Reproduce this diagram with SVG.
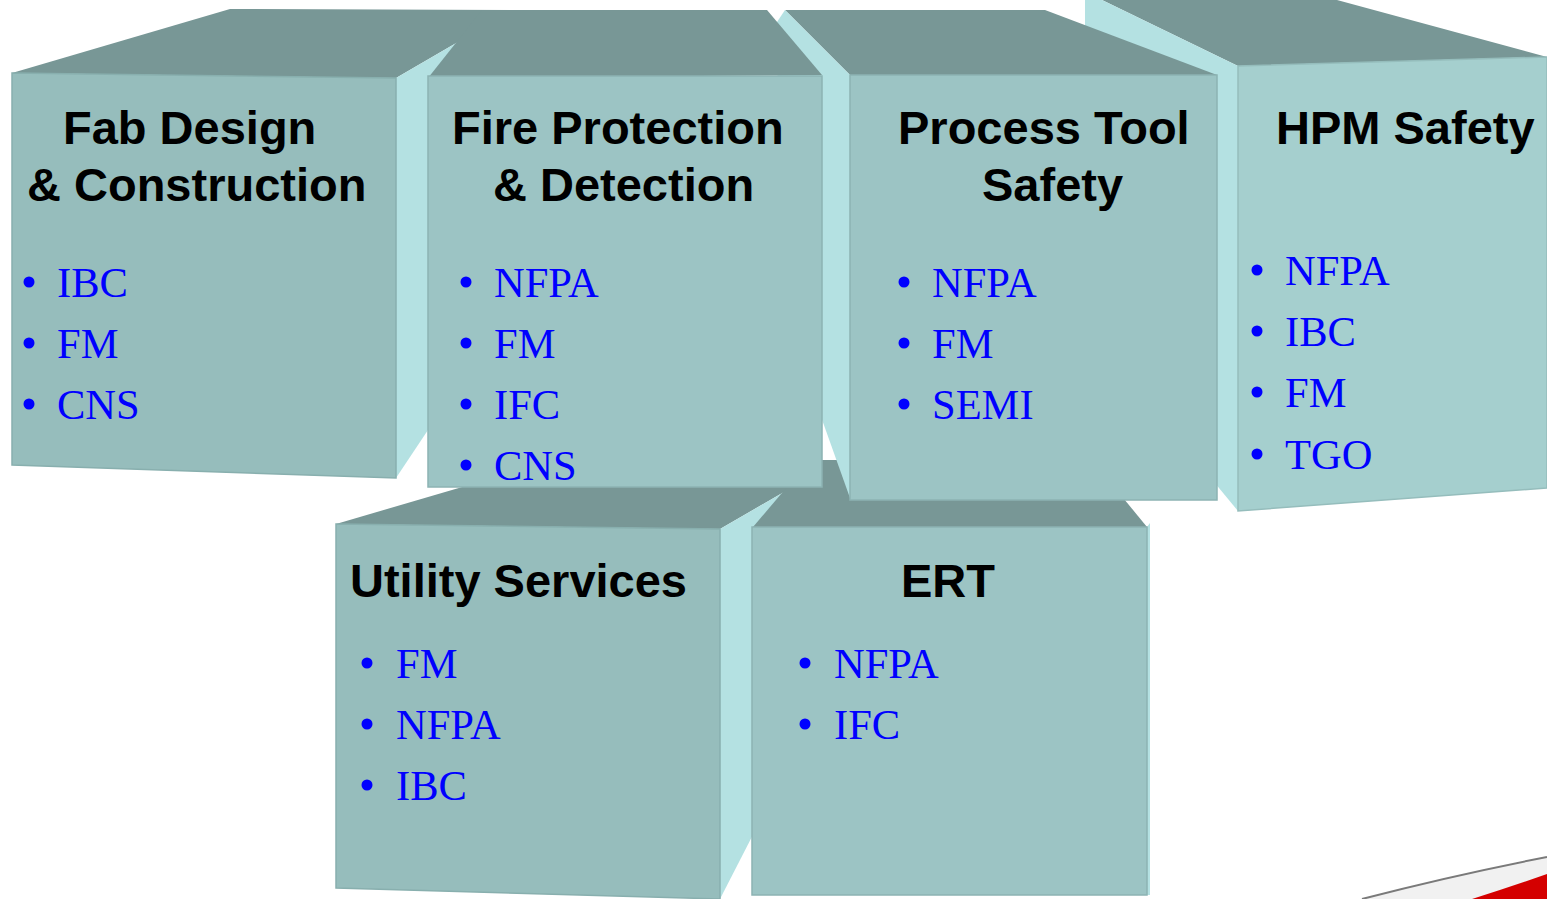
<svg xmlns="http://www.w3.org/2000/svg" width="1547" height="899" viewBox="0 0 1547 899">
<style>
.top{fill:#789796}
.side{fill:#b4e1e2}
.front{fill:#9cc4c4;stroke:#8cb3b3;stroke-width:1.5}
.frontd{fill:#96bdbc;stroke:#88afae;stroke-width:1.5}
.frontl{fill:#a5cfce;stroke:#95bdbc;stroke-width:1.5}
.title{font-family:"Liberation Sans",Arial,sans-serif;font-weight:bold;font-size:47px;fill:#000}
.item{font-family:"Liberation Serif","Times New Roman",serif;font-size:42.5px;fill:#0000ff}
.dot{fill:#0000ff}
</style>
<rect width="1547" height="899" fill="#ffffff"/>
<g id="swoosh">
<path d="M1362,899 Q1450,876 1547,857 L1547,899 Z" fill="#f1f1f1"/>
<path d="M1362,899 Q1450,876 1547,857" fill="none" stroke="#7a7a7a" stroke-width="2"/>
<path d="M1472,899 Q1510,887 1547,874 L1547,899 Z" fill="#d40000"/>
</g>
<g id="utility-services">
<polygon class="top" points="336,524 520,470 822,470 720,529"/>
<polygon class="side" points="720,529 822,470 822,700 720,899"/>
<polygon class="frontd" points="336,524 720,529 720,899 336,888"/>
<text class="title" x="350" y="597">Utility Services</text>
<circle class="dot" cx="367" cy="663" r="5.5"/><text class="item" x="396" y="678">FM</text>
<circle class="dot" cx="367" cy="724" r="5.5"/><text class="item" x="396" y="739">NFPA</text>
<circle class="dot" cx="367" cy="785" r="5.5"/><text class="item" x="396" y="800">IBC</text>
</g>
<g id="ert">
<polygon class="top" points="753,527 810,460 1092,460 1147,527"/>
<polygon class="side" points="1147,527 1150,523 1150,895 1147,895"/>
<polygon class="front" points="752,527 1147,527 1147,895 752,895"/>
<text class="title" x="901" y="597">ERT</text>
<circle class="dot" cx="805" cy="663" r="5.5"/><text class="item" x="834" y="678">NFPA</text>
<circle class="dot" cx="805" cy="724" r="5.5"/><text class="item" x="834" y="739">IFC</text>
</g>
<g id="hpm-safety">
<polygon class="top" points="1102,0 1337,0 1547,57 1238,66"/>
<polygon class="side" points="1085,0 1102,0 1238,66 1238,511 1200,465 1085,300"/>
<polygon class="frontl" points="1238,66 1547,57 1547,488 1238,511"/>
<text class="title" x="1276" y="144">HPM Safety</text>
<circle class="dot" cx="1257" cy="270" r="5.5"/><text class="item" x="1285" y="285">NFPA</text>
<circle class="dot" cx="1257" cy="331" r="5.5"/><text class="item" x="1285" y="346">IBC</text>
<circle class="dot" cx="1257" cy="392" r="5.5"/><text class="item" x="1285" y="407">FM</text>
<circle class="dot" cx="1257" cy="454" r="5.5"/><text class="item" x="1285" y="469">TGO</text>
</g>
<g id="process-tool-safety">
<polygon class="top" points="850,75 785,10 1045,10 1217,75"/>
<polygon class="side" points="850,75 785,10 775,25 790,330 850,498"/>
<polygon class="front" points="850,75 1217,75 1217,500 850,500"/>
<text class="title" x="898" y="144">Process Tool</text>
<text class="title" x="982" y="201">Safety</text>
<circle class="dot" cx="904" cy="282" r="5.5"/><text class="item" x="932" y="297">NFPA</text>
<circle class="dot" cx="904" cy="343" r="5.5"/><text class="item" x="932" y="358">FM</text>
<circle class="dot" cx="904" cy="404" r="5.5"/><text class="item" x="932" y="419">SEMI</text>
</g>
<g id="fab-design-construction">
<polygon class="top" points="12,73 230,9 513,10 396,78"/>
<polygon class="side" points="396,78 513,10 513,300 428,430 396,478"/>
<polygon class="frontd" points="12,73 396,78 396,478 12,465"/>
<text class="title" x="63" y="144">Fab Design</text>
<text class="title" x="27" y="201">&amp; Construction</text>
<circle class="dot" cx="29" cy="282" r="5.5"/><text class="item" x="57" y="297">IBC</text>
<circle class="dot" cx="29" cy="343" r="5.5"/><text class="item" x="57" y="358">FM</text>
<circle class="dot" cx="29" cy="404" r="5.5"/><text class="item" x="57" y="419">CNS</text>
</g>
<g id="fire-protection-detection">
<polygon class="top" points="428,78 482,10 767,10 822,75"/>
<polygon class="front" points="428,76 822,76 822,487 428,487"/>
<text class="title" x="452" y="144">Fire Protection</text>
<text class="title" x="493" y="201">&amp; Detection</text>
<circle class="dot" cx="466" cy="282" r="5.5"/><text class="item" x="494" y="297">NFPA</text>
<circle class="dot" cx="466" cy="343" r="5.5"/><text class="item" x="494" y="358">FM</text>
<circle class="dot" cx="466" cy="404" r="5.5"/><text class="item" x="494" y="419">IFC</text>
<circle class="dot" cx="466" cy="465" r="5.5"/><text class="item" x="494" y="480">CNS</text>
</g>
<g id="connectors"></g>
</svg>
